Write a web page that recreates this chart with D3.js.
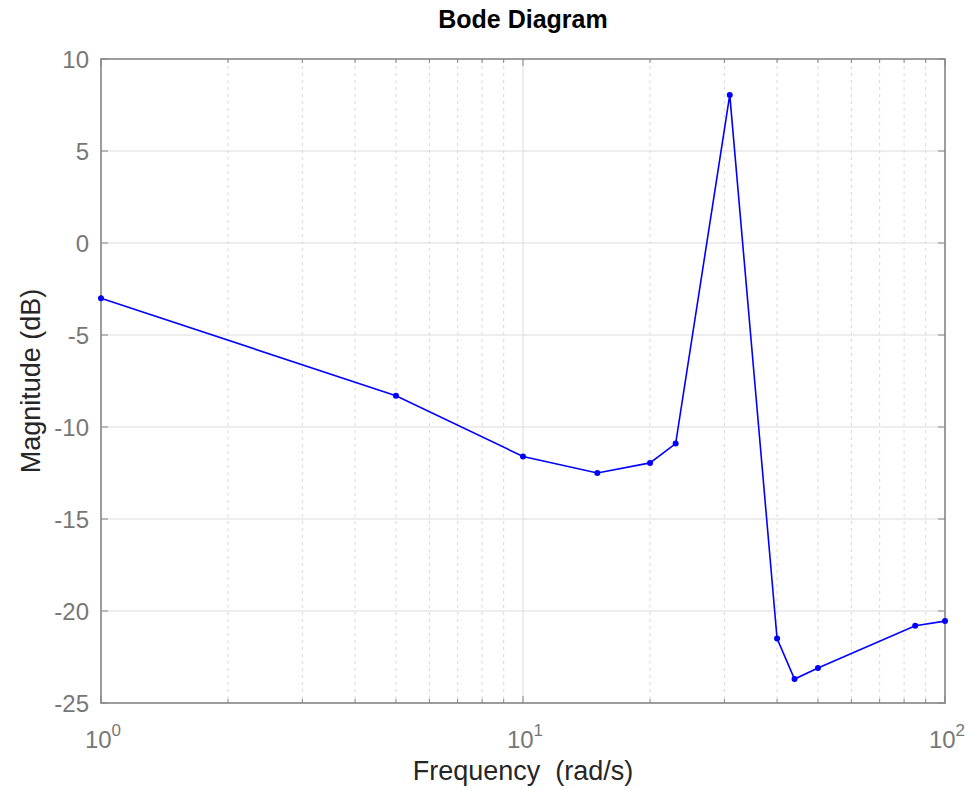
<!DOCTYPE html>
<html>
<head>
<meta charset="utf-8">
<script src="https://cdn.jsdelivr.net/npm/d3@7"></script>
<style>
  body { margin: 0; background: #fff; }
  text { font-family: "Liberation Sans", Arial, sans-serif; }
</style>
</head>
<body>
<div id="chart"></div>
<script>
// data
var freq = [1, 5, 10, 15, 20, 23, 30.9, 40, 44, 50, 85, 100];
var magDb = [-3.0, -8.3, -11.6, -12.5, -11.95, -10.9, 8.05, -21.5, -23.7, -23.1, -20.8, -20.55];
var yTicks = [-25, -20, -15, -10, -5, 0, 5, 10];
var xDecades = [1, 10, 100];

var W = 969, H = 791;
var margin = {top: 59, right: 24, bottom: 88, left: 101};
var width = W - margin.left - margin.right,
    height = H - margin.top - margin.bottom;

var svg = d3.select("#chart").append("svg")
    .attr("width", W).attr("height", H);

var g = svg.append("g")
    .attr("transform", "translate(" + margin.left + "," + margin.top + ")");

var x = d3.scaleLog().domain([1, 100]).range([0, width]);
var y = d3.scaleLinear().domain([-25, 10]).range([height, 0]);

// minor frequencies (2..9, 20..90)
var minor = [];
[1, 10].forEach(function(d){
  for (var k = 2; k <= 9; k++) minor.push(d * k);
});

// grid
g.append("g").selectAll("line").data(minor).enter().append("line")
  .attr("x1", function(d){ return x(d); }).attr("x2", function(d){ return x(d); })
  .attr("y1", 0).attr("y2", height)
  .attr("stroke", "#d8d8d8").attr("stroke-width", 1)
  .attr("stroke-dasharray", "3,4");

g.append("g").selectAll("line").data([10]).enter().append("line")
  .attr("x1", function(d){ return x(d); }).attr("x2", function(d){ return x(d); })
  .attr("y1", 0).attr("y2", height)
  .attr("stroke", "#dcdcdc").attr("stroke-width", 1);

g.append("g").selectAll("line").data(yTicks.slice(1, -1)).enter().append("line")
  .attr("x1", 0).attr("x2", width)
  .attr("y1", function(d){ return y(d); }).attr("y2", function(d){ return y(d); })
  .attr("stroke", "#dcdcdc").attr("stroke-width", 1);

// box
g.append("rect")
  .attr("x", 0).attr("y", 0).attr("width", width).attr("height", height)
  .attr("fill", "none").attr("stroke", "#858585").attr("stroke-width", 1.6);

// ticks inward on all sides
var tk = g.append("g").attr("stroke", "#858585").attr("stroke-width", 1);
yTicks.forEach(function(d){
  tk.append("line").attr("x1", 0).attr("x2", 7).attr("y1", y(d)).attr("y2", y(d));
  tk.append("line").attr("x1", width).attr("x2", width - 7).attr("y1", y(d)).attr("y2", y(d));
});
xDecades.concat(minor).forEach(function(d){
  var len = xDecades.indexOf(d) >= 0 ? 7 : 4;
  tk.append("line").attr("x1", x(d)).attr("x2", x(d)).attr("y1", height).attr("y2", height - len);
  tk.append("line").attr("x1", x(d)).attr("x2", x(d)).attr("y1", 0).attr("y2", len);
});

// y tick labels
g.append("g").selectAll("text").data(yTicks).enter().append("text")
  .attr("x", -12).attr("y", function(d){ return y(d); })
  .attr("dy", "0.36em")
  .attr("text-anchor", "end")
  .attr("font-size", 24).attr("fill", "#777")
  .text(function(d){ return d; });

// x tick labels 10^n
var xl = g.append("g").selectAll("text").data(xDecades).enter().append("text")
  .attr("x", function(d){ return x(d) + 2; }).attr("y", height + 45)
  .attr("text-anchor", "middle")
  .attr("font-size", 24).attr("fill", "#777");
xl.append("tspan").text("10");
xl.append("tspan").attr("dy", -12).attr("font-size", 17)
  .text(function(d){ return Math.round(Math.log10(d)); });

// axis titles
svg.append("text")
  .attr("x", margin.left + width / 2).attr("y", 780)
  .attr("text-anchor", "middle").attr("font-size", 27).attr("fill", "#262626")
  .style("white-space", "pre")
  .text("Frequency  (rad/s)");

svg.append("text")
  .attr("transform", "translate(40," + (margin.top + height / 2) + ") rotate(-90)")
  .attr("text-anchor", "middle").attr("font-size", 27).attr("fill", "#262626")
  .text("Magnitude (dB)");

svg.append("text")
  .attr("x", margin.left + width / 2).attr("y", 28)
  .attr("text-anchor", "middle").attr("font-size", 25).attr("font-weight", "bold")
  .attr("fill", "#000")
  .text("Bode Diagram");

// curve
var pts = freq.map(function(f, i){ return {f: f, m: magDb[i]}; });
var line = d3.line()
  .x(function(d){ return x(d.f); })
  .y(function(d){ return y(d.m); });

g.append("path").datum(pts)
  .attr("d", line)
  .attr("fill", "none").attr("stroke", "#0000ff").attr("stroke-width", 1.6);

g.append("g").selectAll("circle").data(pts).enter().append("circle")
  .attr("cx", function(d){ return x(d.f); })
  .attr("cy", function(d){ return y(d.m); })
  .attr("r", 3).attr("fill", "#0000ff");
</script>
</body>
</html>
